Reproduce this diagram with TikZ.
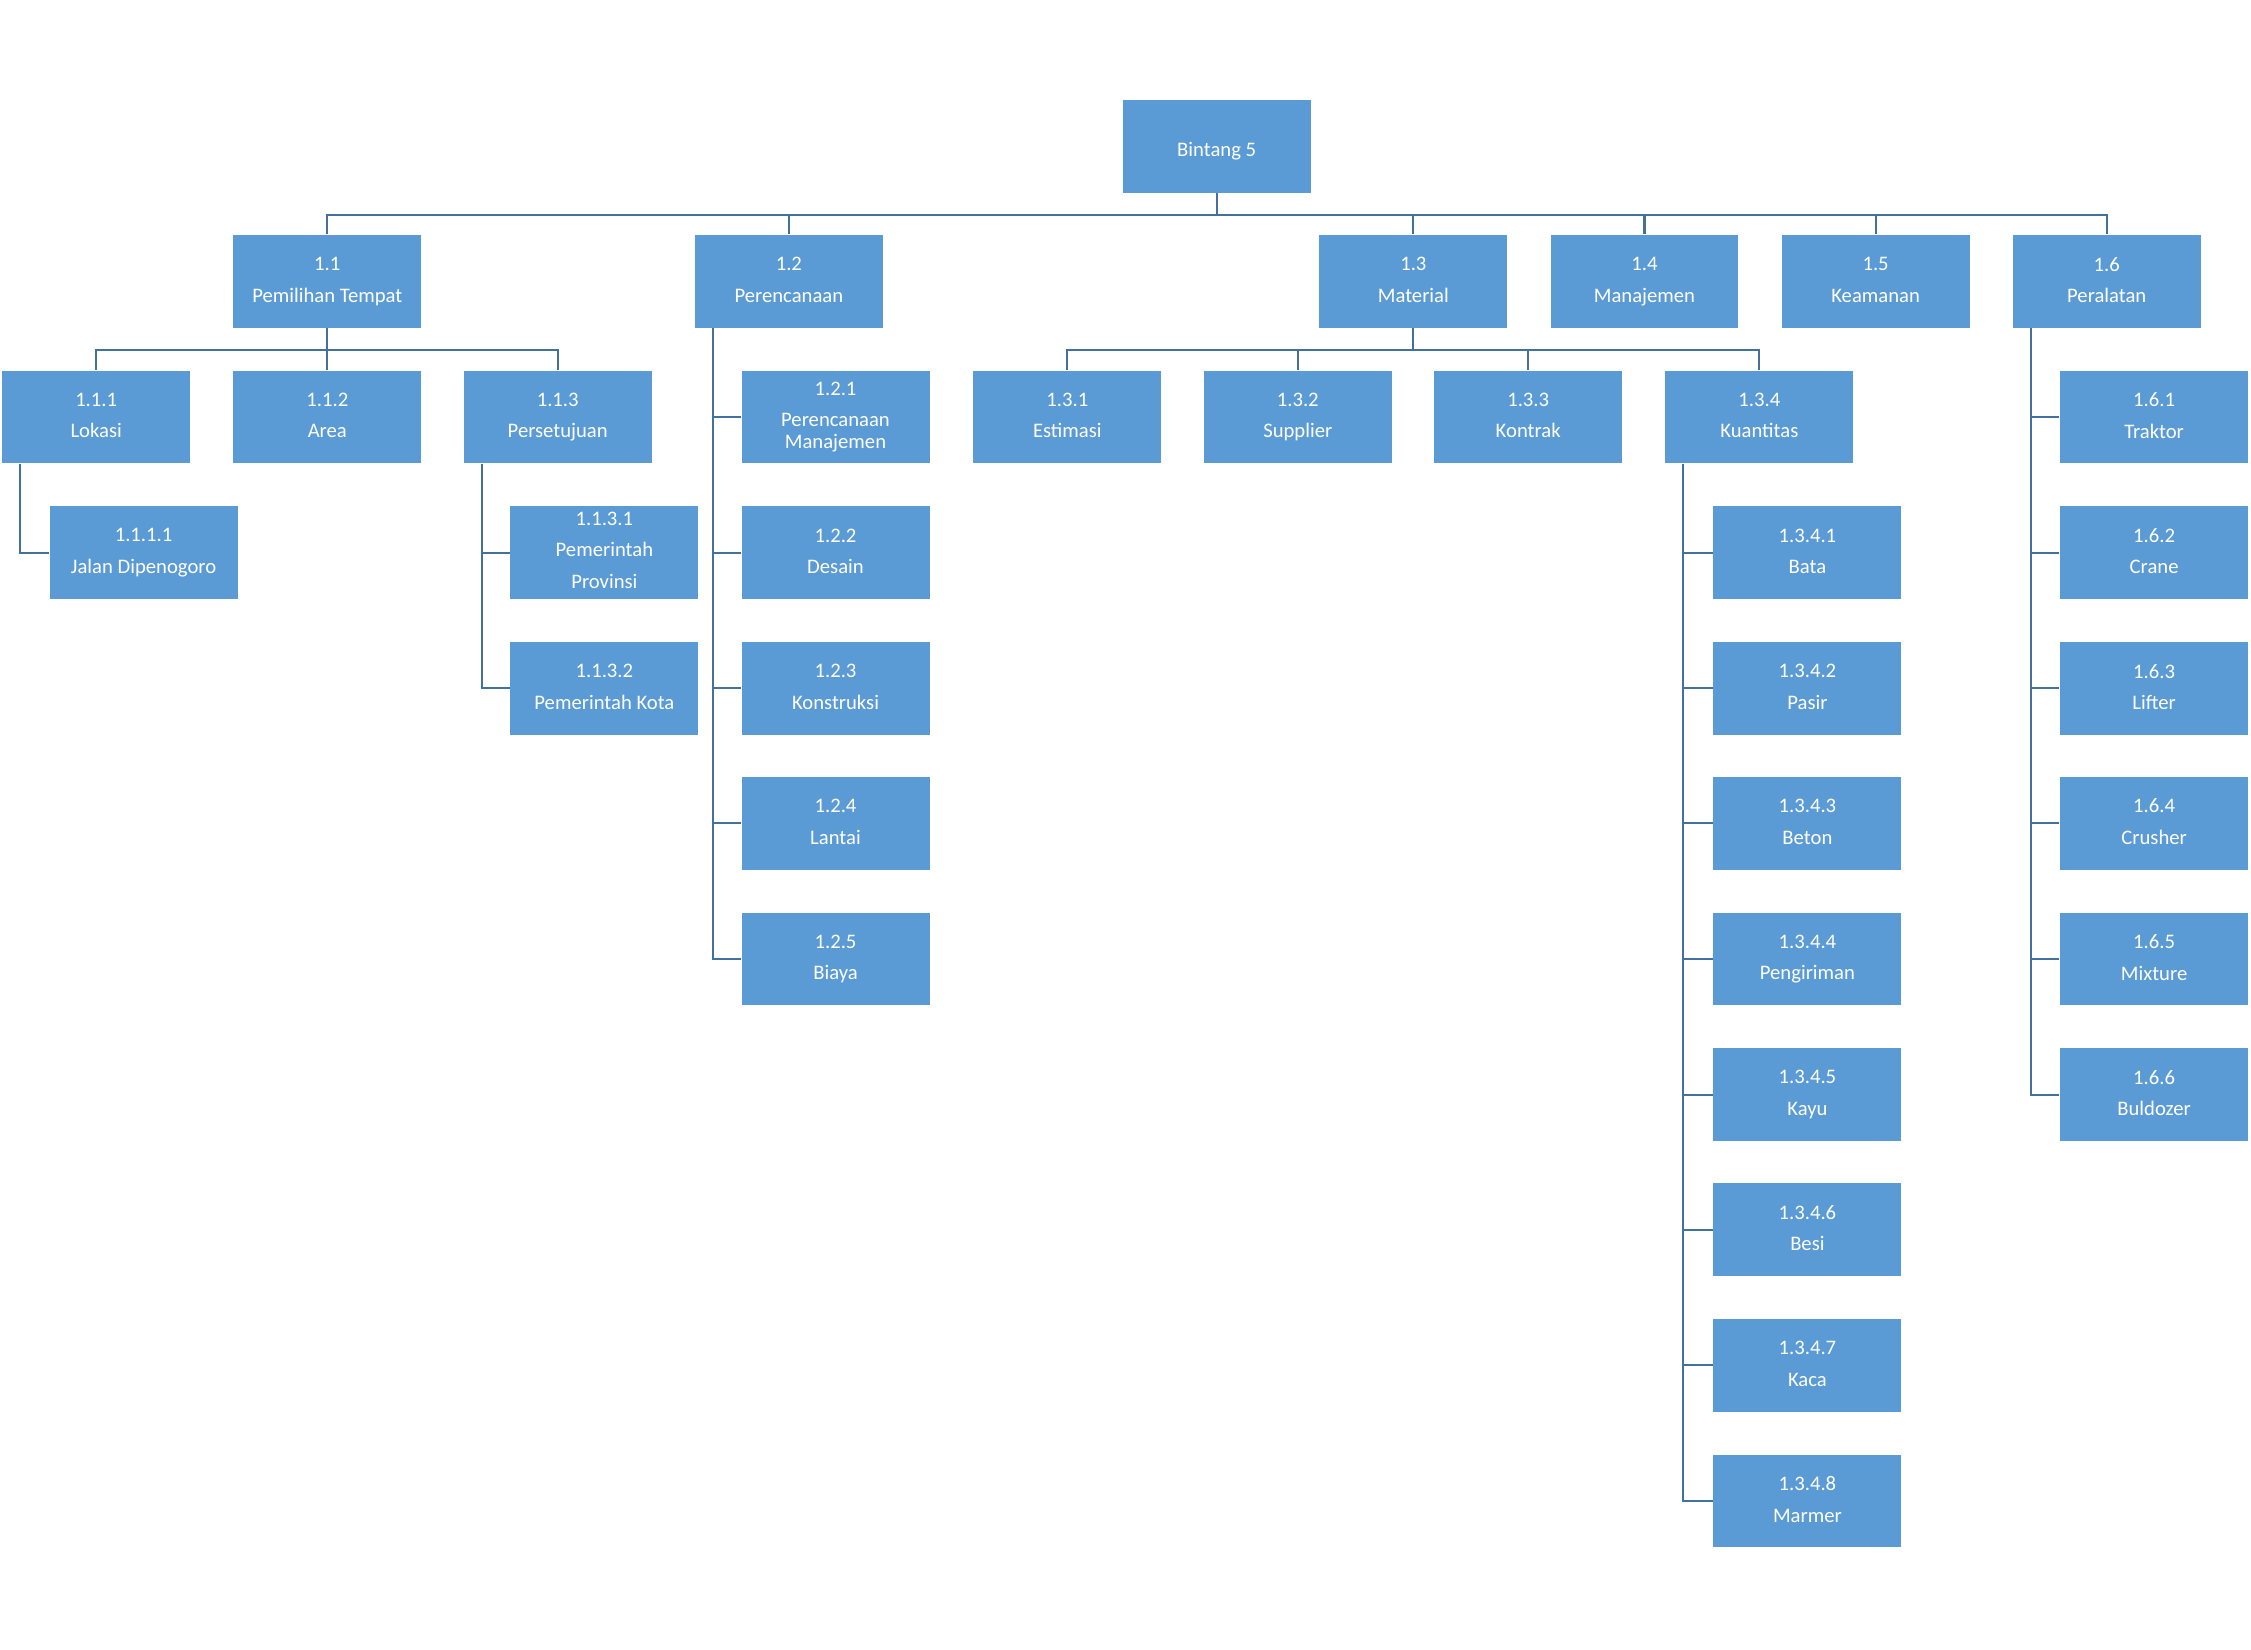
\documentclass[tikz,border=0pt]{standalone}
\usepackage{fontspec}
\setmainfont{Carlito}
\definecolor{boxblue}{RGB}{91,155,213}
\definecolor{linkblue}{RGB}{65,113,156}
\begin{document}
\begin{tikzpicture}[
  x=0.0144cm, y=-0.0144cm,
  wbs/.style = {fill=boxblue, text=white, inner sep=0pt, align=center,
                minimum width=1.886cm, minimum height=0.93cm,
                font=\fontsize{5.9}{9}\selectfont,
                execute at begin node={\rule{0pt}{9pt}},
                execute at end node={\rule[-0.9pt]{0pt}{0.9pt}}},
  rootbox/.style = {execute at begin node={\rule{0pt}{5.2pt}},
                    execute at end node={\rule[-3.2pt]{0pt}{3.2pt}}},
  tallbox/.style = {execute at begin node={\rule{0pt}{6.8pt}},
                    execute at end node={\rule[-1.6pt]{0pt}{1.6pt}}},
  link/.style = {draw=linkblue, line width=0.6pt},
  ]
  \useasboundingbox (0,0) rectangle (1568,1149);

  % root
  \node[wbs,rootbox] (bin) at (847.5,102) {Bintang 5};

  % first level
  \node[wbs] (n11) at (228,196)    {1.1\\Pemilihan Tempat};
  \node[wbs] (n12) at (549.5,196)  {1.2\\Perencanaan};
  \node[wbs] (n13) at (984.5,196)  {1.3\\Material};
  \node[wbs] (n14) at (1145.5,196) {1.4\\Manajemen};
  \node[wbs] (n15) at (1306.5,196) {1.5\\Keamanan};
  \node[wbs] (n16) at (1467.5,196) {1.6\\Peralatan};

  % second level
  \node[wbs] (n111) at (67,290.5)     {1.1.1\\Lokasi};
  \node[wbs] (n112) at (228,290.5)    {1.1.2\\Area};
  \node[wbs] (n113) at (388.5,290.5)  {1.1.3\\Persetujuan};
  \node[wbs] (n131) at (743.5,290.5)  {1.3.1\\Estimasi};
  \node[wbs] (n132) at (904,290.5)    {1.3.2\\Supplier};
  \node[wbs] (n133) at (1064.5,290.5) {1.3.3\\Kontrak};
  \node[wbs] (n134) at (1225.5,290.5) {1.3.4\\Kuantitas};

  % 1.1 branch
  \node[wbs] (n1111) at (100,385)         {1.1.1.1\\Jalan Dipenogoro};
  \node[wbs,tallbox] (n1131) at (421,385) {1.1.3.1\\Pemerintah\\Provinsi};
  \node[wbs] (n1132) at (421,479.5)       {1.1.3.2\\Pemerintah Kota};

  % 1.2 branch
  \node[wbs] (n121) at (582,290.5) {1.2.1\\Perencanaan\\[-2.6pt]Manajemen};
  \node[wbs] (n122) at (582,385)   {1.2.2\\Desain};
  \node[wbs] (n123) at (582,479.5) {1.2.3\\Konstruksi};
  \node[wbs] (n124) at (582,573.5) {1.2.4\\Lantai};
  \node[wbs] (n125) at (582,668)   {1.2.5\\Biaya};

  % 1.3.4 branch
  \node[wbs] (n1341) at (1259,385)    {1.3.4.1\\Bata};
  \node[wbs] (n1342) at (1259,479.5)  {1.3.4.2\\Pasir};
  \node[wbs] (n1343) at (1259,573.5)  {1.3.4.3\\Beton};
  \node[wbs] (n1344) at (1259,668)    {1.3.4.4\\Pengiriman};
  \node[wbs] (n1345) at (1259,762.5)  {1.3.4.5\\Kayu};
  \node[wbs] (n1346) at (1259,856.5)  {1.3.4.6\\Besi};
  \node[wbs] (n1347) at (1259,951)    {1.3.4.7\\Kaca};
  \node[wbs] (n1348) at (1259,1045.5) {1.3.4.8\\Marmer};

  % 1.6 branch
  \node[wbs] (n161) at (1500.5,290.5) {1.6.1\\Traktor};
  \node[wbs] (n162) at (1500.5,385)   {1.6.2\\Crane};
  \node[wbs] (n163) at (1500.5,479.5) {1.6.3\\Lifter};
  \node[wbs] (n164) at (1500.5,573.5) {1.6.4\\Crusher};
  \node[wbs] (n165) at (1500.5,668)   {1.6.5\\Mixture};
  \node[wbs] (n166) at (1500.5,762.5) {1.6.6\\Buldozer};

  % top bus
  \draw[link] (bin.south) -- ++(0,15) -| (n11.north);
  \draw[link] (bin.south) -- ++(0,15) -| (n12.north);
  \draw[link] (bin.south) -- ++(0,15) -| (n13.north);
  \draw[link] (bin.south) -- ++(0,15) -| (n14.north);
  \draw[link] (bin.south) -- ++(0,15) -| (n15.north);
  \draw[link] (bin.south) -- ++(0,15) -| (n16.north);

  % buses under 1.1 and 1.3
  \draw[link] (n11.south) -- ++(0,15) -| (n111.north);
  \draw[link] (n11.south) -- ++(0,15) -| (n112.north);
  \draw[link] (n11.south) -- ++(0,15) -| (n113.north);
  \draw[link] (n13.south) -- ++(0,15) -| (n131.north);
  \draw[link] (n13.south) -- ++(0,15) -| (n132.north);
  \draw[link] (n13.south) -- ++(0,15) -| (n133.north);
  \draw[link] (n13.south) -- ++(0,15) -| (n134.north);

  % side rails
  \draw[link] ([xshift=0.187cm]n111.south west) |- (n1111.west);
  \draw[link] ([xshift=0.187cm]n113.south west) |- (n1131.west);
  \draw[link] ([xshift=0.187cm]n113.south west) |- (n1132.west);

  \draw[link] ([xshift=0.187cm]n12.south west) |- (n121.west);
  \draw[link] ([xshift=0.187cm]n12.south west) |- (n122.west);
  \draw[link] ([xshift=0.187cm]n12.south west) |- (n123.west);
  \draw[link] ([xshift=0.187cm]n12.south west) |- (n124.west);
  \draw[link] ([xshift=0.187cm]n12.south west) |- (n125.west);

  \draw[link] ([xshift=0.187cm]n134.south west) |- (n1341.west);
  \draw[link] ([xshift=0.187cm]n134.south west) |- (n1342.west);
  \draw[link] ([xshift=0.187cm]n134.south west) |- (n1343.west);
  \draw[link] ([xshift=0.187cm]n134.south west) |- (n1344.west);
  \draw[link] ([xshift=0.187cm]n134.south west) |- (n1345.west);
  \draw[link] ([xshift=0.187cm]n134.south west) |- (n1346.west);
  \draw[link] ([xshift=0.187cm]n134.south west) |- (n1347.west);
  \draw[link] ([xshift=0.187cm]n134.south west) |- (n1348.west);

  \draw[link] ([xshift=0.187cm]n16.south west) |- (n161.west);
  \draw[link] ([xshift=0.187cm]n16.south west) |- (n162.west);
  \draw[link] ([xshift=0.187cm]n16.south west) |- (n163.west);
  \draw[link] ([xshift=0.187cm]n16.south west) |- (n164.west);
  \draw[link] ([xshift=0.187cm]n16.south west) |- (n165.west);
  \draw[link] ([xshift=0.187cm]n16.south west) |- (n166.west);

\end{tikzpicture}
\end{document}
